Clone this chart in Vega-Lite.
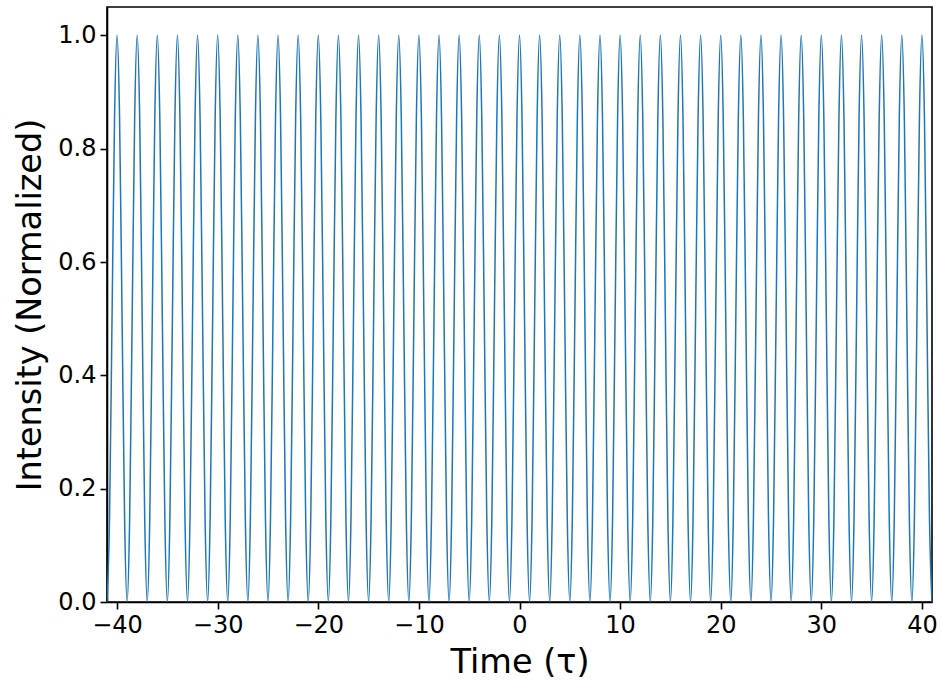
{
"$schema":"https://vega.github.io/schema/vega-lite/v6.json",
"autosize":{"type":"none"},
"padding":{"left":107,"top":7,"right":9,"bottom":79},
"width":825,"height":595,
"background":"white",
"data":{"values":[
{"t":-41,"v":0},{"t":-40.75,"v":0.146},{"t":-40.5,"v":0.5},{"t":-40.25,"v":0.854},
{"t":-40,"v":1},{"t":-39.75,"v":0.854},{"t":-39.5,"v":0.5},{"t":-39.25,"v":0.146},
{"t":-39,"v":0},{"t":-38.75,"v":0.146},{"t":-38.5,"v":0.5},{"t":-38.25,"v":0.854},
{"t":-38,"v":1},{"t":-37.75,"v":0.854},{"t":-37.5,"v":0.5},{"t":-37.25,"v":0.146},
{"t":-37,"v":0},{"t":-36.75,"v":0.146},{"t":-36.5,"v":0.5},{"t":-36.25,"v":0.854},
{"t":-36,"v":1},{"t":-35.75,"v":0.854},{"t":-35.5,"v":0.5},{"t":-35.25,"v":0.146},
{"t":-35,"v":0},{"t":-34.75,"v":0.146},{"t":-34.5,"v":0.5},{"t":-34.25,"v":0.854},
{"t":-34,"v":1},{"t":-33.75,"v":0.854},{"t":-33.5,"v":0.5},{"t":-33.25,"v":0.146},
{"t":-33,"v":0},{"t":-32.75,"v":0.146},{"t":-32.5,"v":0.5},{"t":-32.25,"v":0.854},
{"t":-32,"v":1},{"t":-31.75,"v":0.854},{"t":-31.5,"v":0.5},{"t":-31.25,"v":0.146},
{"t":-31,"v":0},{"t":-30.75,"v":0.146},{"t":-30.5,"v":0.5},{"t":-30.25,"v":0.854},
{"t":-30,"v":1},{"t":-29.75,"v":0.854},{"t":-29.5,"v":0.5},{"t":-29.25,"v":0.146},
{"t":-29,"v":0},{"t":-28.75,"v":0.146},{"t":-28.5,"v":0.5},{"t":-28.25,"v":0.854},
{"t":-28,"v":1},{"t":-27.75,"v":0.854},{"t":-27.5,"v":0.5},{"t":-27.25,"v":0.146},
{"t":-27,"v":0},{"t":-26.75,"v":0.146},{"t":-26.5,"v":0.5},{"t":-26.25,"v":0.854},
{"t":-26,"v":1},{"t":-25.75,"v":0.854},{"t":-25.5,"v":0.5},{"t":-25.25,"v":0.146},
{"t":-25,"v":0},{"t":-24.75,"v":0.146},{"t":-24.5,"v":0.5},{"t":-24.25,"v":0.854},
{"t":-24,"v":1},{"t":-23.75,"v":0.854},{"t":-23.5,"v":0.5},{"t":-23.25,"v":0.146},
{"t":-23,"v":0},{"t":-22.75,"v":0.146},{"t":-22.5,"v":0.5},{"t":-22.25,"v":0.854},
{"t":-22,"v":1},{"t":-21.75,"v":0.854},{"t":-21.5,"v":0.5},{"t":-21.25,"v":0.146},
{"t":-21,"v":0},{"t":-20.75,"v":0.146},{"t":-20.5,"v":0.5},{"t":-20.25,"v":0.854},
{"t":-20,"v":1},{"t":-19.75,"v":0.854},{"t":-19.5,"v":0.5},{"t":-19.25,"v":0.146},
{"t":-19,"v":0},{"t":-18.75,"v":0.146},{"t":-18.5,"v":0.5},{"t":-18.25,"v":0.854},
{"t":-18,"v":1},{"t":-17.75,"v":0.854},{"t":-17.5,"v":0.5},{"t":-17.25,"v":0.146},
{"t":-17,"v":0},{"t":-16.75,"v":0.146},{"t":-16.5,"v":0.5},{"t":-16.25,"v":0.854},
{"t":-16,"v":1},{"t":-15.75,"v":0.854},{"t":-15.5,"v":0.5},{"t":-15.25,"v":0.146},
{"t":-15,"v":0},{"t":-14.75,"v":0.146},{"t":-14.5,"v":0.5},{"t":-14.25,"v":0.854},
{"t":-14,"v":1},{"t":-13.75,"v":0.854},{"t":-13.5,"v":0.5},{"t":-13.25,"v":0.146},
{"t":-13,"v":0},{"t":-12.75,"v":0.146},{"t":-12.5,"v":0.5},{"t":-12.25,"v":0.854},
{"t":-12,"v":1},{"t":-11.75,"v":0.854},{"t":-11.5,"v":0.5},{"t":-11.25,"v":0.146},
{"t":-11,"v":0},{"t":-10.75,"v":0.146},{"t":-10.5,"v":0.5},{"t":-10.25,"v":0.854},
{"t":-10,"v":1},{"t":-9.75,"v":0.854},{"t":-9.5,"v":0.5},{"t":-9.25,"v":0.146},
{"t":-9,"v":0},{"t":-8.75,"v":0.146},{"t":-8.5,"v":0.5},{"t":-8.25,"v":0.854},
{"t":-8,"v":1},{"t":-7.75,"v":0.854},{"t":-7.5,"v":0.5},{"t":-7.25,"v":0.146},
{"t":-7,"v":0},{"t":-6.75,"v":0.146},{"t":-6.5,"v":0.5},{"t":-6.25,"v":0.854},
{"t":-6,"v":1},{"t":-5.75,"v":0.854},{"t":-5.5,"v":0.5},{"t":-5.25,"v":0.146},
{"t":-5,"v":0},{"t":-4.75,"v":0.146},{"t":-4.5,"v":0.5},{"t":-4.25,"v":0.854},
{"t":-4,"v":1},{"t":-3.75,"v":0.854},{"t":-3.5,"v":0.5},{"t":-3.25,"v":0.146},
{"t":-3,"v":0},{"t":-2.75,"v":0.146},{"t":-2.5,"v":0.5},{"t":-2.25,"v":0.854},
{"t":-2,"v":1},{"t":-1.75,"v":0.854},{"t":-1.5,"v":0.5},{"t":-1.25,"v":0.146},
{"t":-1,"v":0},{"t":-0.75,"v":0.146},{"t":-0.5,"v":0.5},{"t":-0.25,"v":0.854},
{"t":0,"v":1},{"t":0.25,"v":0.854},{"t":0.5,"v":0.5},{"t":0.75,"v":0.146},
{"t":1,"v":0},{"t":1.25,"v":0.146},{"t":1.5,"v":0.5},{"t":1.75,"v":0.854},
{"t":2,"v":1},{"t":2.25,"v":0.854},{"t":2.5,"v":0.5},{"t":2.75,"v":0.146},
{"t":3,"v":0},{"t":3.25,"v":0.146},{"t":3.5,"v":0.5},{"t":3.75,"v":0.854},
{"t":4,"v":1},{"t":4.25,"v":0.854},{"t":4.5,"v":0.5},{"t":4.75,"v":0.146},
{"t":5,"v":0},{"t":5.25,"v":0.146},{"t":5.5,"v":0.5},{"t":5.75,"v":0.854},
{"t":6,"v":1},{"t":6.25,"v":0.854},{"t":6.5,"v":0.5},{"t":6.75,"v":0.146},
{"t":7,"v":0},{"t":7.25,"v":0.146},{"t":7.5,"v":0.5},{"t":7.75,"v":0.854},
{"t":8,"v":1},{"t":8.25,"v":0.854},{"t":8.5,"v":0.5},{"t":8.75,"v":0.146},
{"t":9,"v":0},{"t":9.25,"v":0.146},{"t":9.5,"v":0.5},{"t":9.75,"v":0.854},
{"t":10,"v":1},{"t":10.25,"v":0.854},{"t":10.5,"v":0.5},{"t":10.75,"v":0.146},
{"t":11,"v":0},{"t":11.25,"v":0.146},{"t":11.5,"v":0.5},{"t":11.75,"v":0.854},
{"t":12,"v":1},{"t":12.25,"v":0.854},{"t":12.5,"v":0.5},{"t":12.75,"v":0.146},
{"t":13,"v":0},{"t":13.25,"v":0.146},{"t":13.5,"v":0.5},{"t":13.75,"v":0.854},
{"t":14,"v":1},{"t":14.25,"v":0.854},{"t":14.5,"v":0.5},{"t":14.75,"v":0.146},
{"t":15,"v":0},{"t":15.25,"v":0.146},{"t":15.5,"v":0.5},{"t":15.75,"v":0.854},
{"t":16,"v":1},{"t":16.25,"v":0.854},{"t":16.5,"v":0.5},{"t":16.75,"v":0.146},
{"t":17,"v":0},{"t":17.25,"v":0.146},{"t":17.5,"v":0.5},{"t":17.75,"v":0.854},
{"t":18,"v":1},{"t":18.25,"v":0.854},{"t":18.5,"v":0.5},{"t":18.75,"v":0.146},
{"t":19,"v":0},{"t":19.25,"v":0.146},{"t":19.5,"v":0.5},{"t":19.75,"v":0.854},
{"t":20,"v":1},{"t":20.25,"v":0.854},{"t":20.5,"v":0.5},{"t":20.75,"v":0.146},
{"t":21,"v":0},{"t":21.25,"v":0.146},{"t":21.5,"v":0.5},{"t":21.75,"v":0.854},
{"t":22,"v":1},{"t":22.25,"v":0.854},{"t":22.5,"v":0.5},{"t":22.75,"v":0.146},
{"t":23,"v":0},{"t":23.25,"v":0.146},{"t":23.5,"v":0.5},{"t":23.75,"v":0.854},
{"t":24,"v":1},{"t":24.25,"v":0.854},{"t":24.5,"v":0.5},{"t":24.75,"v":0.146},
{"t":25,"v":0},{"t":25.25,"v":0.146},{"t":25.5,"v":0.5},{"t":25.75,"v":0.854},
{"t":26,"v":1},{"t":26.25,"v":0.854},{"t":26.5,"v":0.5},{"t":26.75,"v":0.146},
{"t":27,"v":0},{"t":27.25,"v":0.146},{"t":27.5,"v":0.5},{"t":27.75,"v":0.854},
{"t":28,"v":1},{"t":28.25,"v":0.854},{"t":28.5,"v":0.5},{"t":28.75,"v":0.146},
{"t":29,"v":0},{"t":29.25,"v":0.146},{"t":29.5,"v":0.5},{"t":29.75,"v":0.854},
{"t":30,"v":1},{"t":30.25,"v":0.854},{"t":30.5,"v":0.5},{"t":30.75,"v":0.146},
{"t":31,"v":0},{"t":31.25,"v":0.146},{"t":31.5,"v":0.5},{"t":31.75,"v":0.854},
{"t":32,"v":1},{"t":32.25,"v":0.854},{"t":32.5,"v":0.5},{"t":32.75,"v":0.146},
{"t":33,"v":0},{"t":33.25,"v":0.146},{"t":33.5,"v":0.5},{"t":33.75,"v":0.854},
{"t":34,"v":1},{"t":34.25,"v":0.854},{"t":34.5,"v":0.5},{"t":34.75,"v":0.146},
{"t":35,"v":0},{"t":35.25,"v":0.146},{"t":35.5,"v":0.5},{"t":35.75,"v":0.854},
{"t":36,"v":1},{"t":36.25,"v":0.854},{"t":36.5,"v":0.5},{"t":36.75,"v":0.146},
{"t":37,"v":0},{"t":37.25,"v":0.146},{"t":37.5,"v":0.5},{"t":37.75,"v":0.854},
{"t":38,"v":1},{"t":38.25,"v":0.854},{"t":38.5,"v":0.5},{"t":38.75,"v":0.146},
{"t":39,"v":0},{"t":39.25,"v":0.146},{"t":39.5,"v":0.5},{"t":39.75,"v":0.854},
{"t":40,"v":1},{"t":40.25,"v":0.854},{"t":40.5,"v":0.5},{"t":40.75,"v":0.146},
{"t":41,"v":0}
]},
"mark":{"type":"line","color":"#1f77b4","strokeWidth":1.5,"interpolate":"monotone","clip":true},
"encoding":{
"x":{"field":"t","type":"quantitative","scale":{"domain":[-41,41],"nice":false,"zero":false},
"axis":{"values":[-40,-30,-20,-10,0,10,20,30,40],"title":"Time (τ)","format":"d","titlePadding":9}},
"y":{"field":"v","type":"quantitative","scale":{"domain":[0,1.05],"nice":false},
"axis":{"values":[0,0.2,0.4,0.6,0.8,1.0],"title":"Intensity (Normalized)","format":".1f","titlePadding":10}}
},
"config":{
"view":{"stroke":"black","strokeWidth":1.6},
"axis":{"grid":false,"domainColor":"black","domainWidth":1.6,"tickColor":"black","tickWidth":1.6,"tickSize":7,
"labelFont":"DejaVu Sans","labelFontSize":24,"labelColor":"black","labelPadding":4,
"titleFont":"DejaVu Sans","titleFontSize":33.5,"titleFontWeight":"normal","titleColor":"black"}
}
}
